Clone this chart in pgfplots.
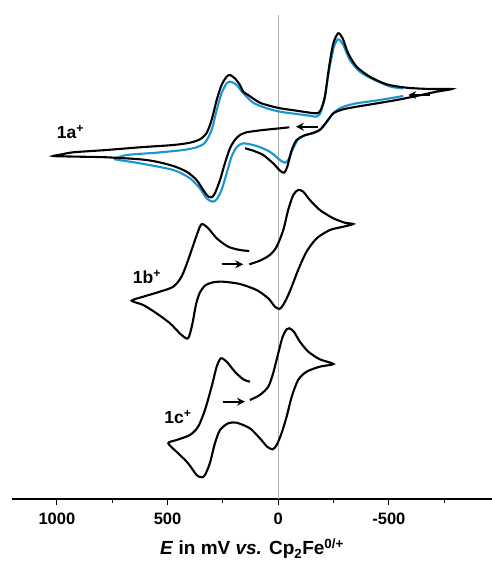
\documentclass[border=0pt]{standalone}
\usepackage{pgfplots}
\pgfplotsset{compat=1.18}
\usetikzlibrary{arrows.meta}
\usepackage{fontspec}
\setmainfont{Liberation Sans}
\definecolor{cvblue}{RGB}{25,150,210}
\definecolor{zgray}{RGB}{175,175,175}
\begin{document}
\begin{tikzpicture}
\begin{axis}[
  scale only axis, width=480pt, height=499pt,
  x dir=reverse, xmin=-966, xmax=1203, ymin=0, ymax=499,
  axis x line=bottom, axis y line=none,
  axis line style={-, line width=1.8pt},
  xtick={1000,500,0,-500}, xticklabels={1000,500,0,-500},
  minor xtick={750,250,-250,-750},
  tick align=outside, major tick length=6pt, minor tick length=3.5pt,
  every tick/.style={line width=1.1pt, black},
  xticklabel style={font=\fontsize{16.5}{18}\selectfont\bfseries, yshift=-4pt},
  xlabel={\textbf{\textit{E} in mV \textit{vs.} Cp\textsubscript{2}Fe\textsuperscript{0/+}}},
  xlabel style={font=\fontsize{19}{21}\selectfont, yshift=-8pt},
  clip=false,
  every axis plot/.append style={line width=2.1pt, smooth, tension=0.45},
]
% zero line
\addplot[zgray, line width=1.4pt, sharp plot] coordinates {(0,0) (0,484)};
% 1a+ blue
\addplot[cvblue] coordinates {
(-565,403) (-505,400.7) (-429,398) (-354,395.7) (-294,392.3) (-256,387.3) (-226,379) (-196,370.7) (-158,365.7) (-121,364) (-90,359.7) (-68,350.7) (-45,339) (-30,336.3) (-8,339) (38,347.3) (98,353) (158,355.7) (188,351.7) (211,342.3) (233,325.7) (256,309) (278,299.7) (296,297.3) (324,300.7) (354,310.7) (399,320.7) (474,329) (625,335.7) (700,338.3) (738,340)
(685,344) (550,346.3) (429,349) (369,351.7) (331,356.3) (301,369) (278,389) (256,405.7) (233,415.7) (215,417.3) (188,414) (158,405.7) (113,396.3) (52,390.7) (-8,387.3) (-83,385) (-143,383.3) (-170,382.3) (-188,385) (-208,399) (-230,429) (-252,452.3) (-271,459.7) (-294,454) (-324,439) (-369,427.3) (-429,419.7) (-505,412.5) (-565,410.5)
};
% 1a+ black
\addplot[black] coordinates {
(-50,371.7) (-8,370.7) (68,369) (128,367.3) (143,366.7) (173,364) (196,359) (218,350.7) (241,335.7) (263,319) (286,305.7) (301,301.7) (319,303) (339,309) (369,319) (414,327.3) (474,333) (550,337.3) (625,339.7) (775,341.7) (896,342.3) (986,342.7) (1017,343)
(986,344.3) (926,346.7) (775,349) (625,351.7) (474,354) (399,356.3) (354,359.7) (324,365.7) (301,379) (278,399) (256,414) (233,422.3) (218,424) (196,420.7) (173,414) (158,407.3) (136,404) (83,396.3) (23,392.3) (-8,390.7) (-83,388.3) (-143,386.3) (-176,385.7) (-192,389) (-211,402.3) (-230,432.3) (-249,455.7) (-271,465.7) (-291,460.7) (-316,445.7) (-354,432.3) (-414,422.3) (-490,414.7) (-580,411.3) (-686,410) (-784,410)
(-716,407.3) (-625,403) (-535,399) (-429,395) (-354,392.3) (-294,389.7) (-249,385.7) (-219,377.3) (-188,369) (-151,365.7) (-113,363) (-83,359) (-61,349) (-41,332.3) (-27,326.3) (-8,328.3) (23,335.7) (68,344) (113,348.3) (150,350.7)
};
% 1b+
\addplot[black] coordinates {
(131,234.7) (83,238.3) (38,244) (7,252.3) (-23,269) (-45,289) (-68,304) (-90,309) (-113,307.3) (-143,299) (-188,289) (-249,280.7) (-301,276.3) (-339,275)
(-294,272.3) (-234,269) (-174,260.7) (-128,247.3) (-90,229) (-61,212.3) (-35,199) (-15,191.7) (-5,190) (15,192.3) (45,200.7) (98,209) (173,215) (249,217.3) (294,216.7) (330,213.5) (355,206) (372,194) (388,175) (407,160.7) (437,164) (489,175.7) (550,185.7) (610,194) (662,198.3)
(610,202.3) (535,207.3) (474,212.3) (437,222.3) (407,239) (376,259) (354,272.3) (342,275) (316,270.7) (278,260.7) (226,252.3) (173,249) (131,248)
};
% 1c+
\addplot[black] coordinates {
(128,99) (83,104) (45,112.3) (23,125.7) (0,145.7) (-20,162.3) (-38,169.7) (-50,170.7) (-71,167.3) (-98,157.3) (-136,147.3) (-188,139.7) (-249,135)
(-188,132.3) (-128,127.3) (-90,119) (-61,102.3) (-38,82.3) (-15,65.7) (7,54) (25,49.7) (50,52.3) (83,60.7) (128,70.7) (188,76.3) (226,75.7) (263,69) (286,55.7) (309,35.7) (331,24) (346,21.7) (369,24) (407,35.7) (452,45.7) (497,55.7)
(459,59) (399,64) (362,72.3) (331,89) (301,112.3) (278,132.3) (259,140.7) (233,137.3) (196,127.3) (158,119.7) (128,117.3)
};
% arrows
\addplot[black, line width=2pt, sharp plot, -{Stealth[length=8pt,width=8pt]}] coordinates {(-686,404) (-588,404)};
\addplot[black, line width=2pt, sharp plot, -{Stealth[length=8pt,width=8pt]}] coordinates {(-181,372.3) (-80,372.3)};
\addplot[black, line width=2pt, sharp plot, -{Stealth[length=8pt,width=8pt]}] coordinates {(256,234.7) (158,234.7)};
\addplot[black, line width=2pt, sharp plot, -{Stealth[length=8pt,width=8pt]}] coordinates {(251,97.3) (150,97.3)};
% labels
\node[font=\fontsize{17.5}{19}\selectfont\bfseries] at (axis cs:939,367) {1a\textsuperscript{+}};
\node[font=\fontsize{17.5}{19}\selectfont\bfseries] at (axis cs:593,222) {1b\textsuperscript{+}};
\node[font=\fontsize{17.5}{19}\selectfont\bfseries] at (axis cs:453,82) {1c\textsuperscript{+}};
\end{axis}
\pgfresetboundingbox
\path[use as bounding box] (-12pt,-64pt) rectangle (480pt,499pt);
\end{tikzpicture}
\end{document}
